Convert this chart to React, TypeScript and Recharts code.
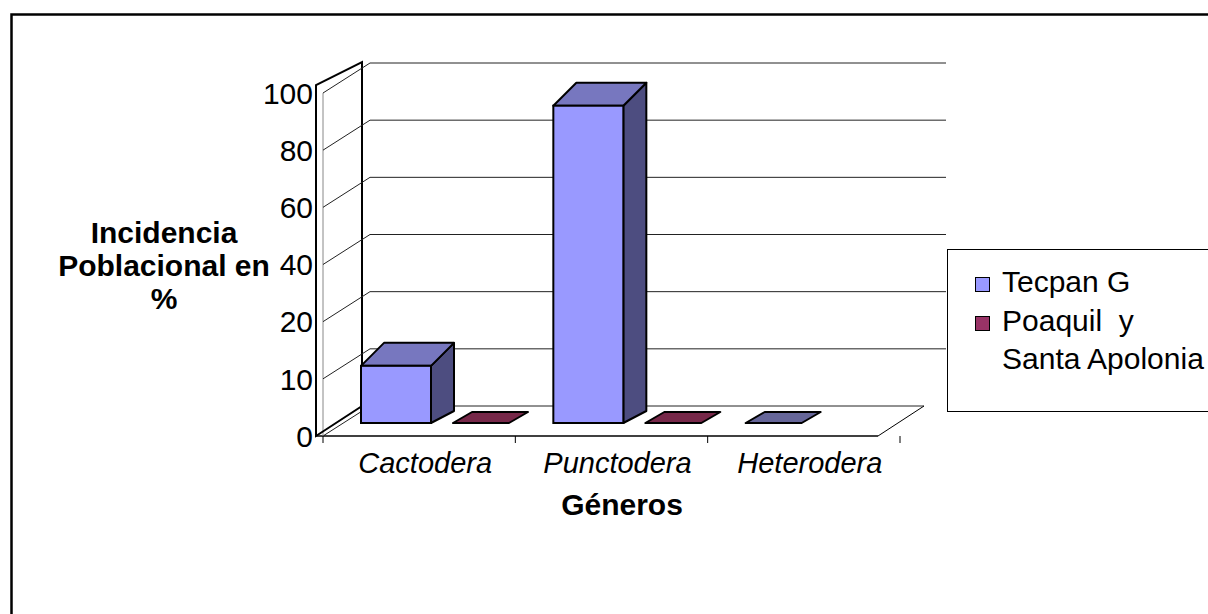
import React from "react";
import { BarChart, Bar, XAxis, YAxis, CartesianGrid, Legend } from "recharts";

const generos = ["Cactodera", "Punctodera", "Heterodera"];
const tecpan = [10, 91, 0];
const poaquil: (number | null)[] = [0, 0, null];
const yTickLabels = [0, 10, 20, 40, 60, 80, 100];
const seriesNames = ["Tecpan G", "Poaquil  y\nSanta Apolonia"];

const data = generos.map((g, i) => ({ genero: g, tecpan: tecpan[i], poaquil: poaquil[i] }));

// the original axis is uneven: 0, 10, 20 then steps of 20, one gridline each
function toLevel(v: number | null) {
  if (v == null) return null;
  for (let i = 1; i < yTickLabels.length; i++) {
    const a = yTickLabels[i - 1];
    const b = yTickLabels[i];
    if (v <= b) return i - 1 + (v - a) / (b - a);
  }
  return yTickLabels.length - 1;
}

const W = 1208;
const H = 614;
const PLOT_TOP = 93;
const PLOT_BOTTOM = 436;
const PLOT_RIGHT = 900;
const YAXIS_W = 323;
const XAXIS_H = 40;
const DEPTH_X = 47;
const DEPTH_Y = 30;
const FONT = '"Liberation Sans", Arial, Helvetica, sans-serif';

const tecpanColors = { front: "#9999FF", top: "#7777BF", side: "#4D4D80", flat: "#666699" };
const poaquilColors = { front: "#993366", top: "#772849", side: "#4D1A33", flat: "#772849" };

// back wall gridline + slanted connector; the floor and side wall ride on the 0 line
function BackLine(p: any) {
  const { x1, y1, x2 } = p;
  const bx = x1 + DEPTH_X;
  const by = y1 - DEPTH_Y;
  const isFloor = Math.abs(y1 - PLOT_BOTTOM) < 1;
  return (
    <g key={p.key ?? `gl-${p.index}`}>
      <line x1={x1} y1={y1} x2={bx} y2={by} stroke="#222" strokeWidth={1} />
      <line x1={bx} y1={by} x2={isFloor ? x2 + 24 : x2 + DEPTH_X - 1} y2={by} stroke="#222" strokeWidth={1} />
      {isFloor && (
        <>
          <line x1={x1 - 7} y1={y1} x2={x2 - 22} y2={y1} stroke="#000" strokeWidth={1.5} />
          <line x1={x2 - 22} y1={y1} x2={x2 + 24} y2={by} stroke="#000" strokeWidth={1} />
          <line x1={x1} y1={y1} x2={x1} y2={PLOT_TOP} stroke="#888" strokeWidth={1} />
          <path
            d={`M${x1 - 7},${y1} L${x1 - 7},${PLOT_TOP - 8} L${x1 + 39},${PLOT_TOP - 31} L${x1 + 39},${by} Z`}
            fill="none"
            stroke="#000"
            strokeWidth={2}
          />
        </>
      )}
    </g>
  );
}

function YTick({ y, payload }: any) {
  return (
    <text x={YAXIS_W - 10} y={y} dy="0.36em" textAnchor="end" fontSize={30} fontFamily={FONT} fill="#000">
      {yTickLabels[payload.value]}
    </text>
  );
}

function XTick({ x, payload, index, visibleTicksCount }: any) {
  const half = payload.offset ?? 96;
  const last = index === visibleTicksCount - 1;
  return (
    <g>
      <line x1={x - half} y1={PLOT_BOTTOM} x2={x - half} y2={PLOT_BOTTOM + 7} stroke="#000" />
      {last && <line x1={x + half} y1={PLOT_BOTTOM} x2={x + half} y2={PLOT_BOTTOM + 7} stroke="#000" />}
      <text x={x + 6} y={PLOT_BOTTOM + 37} textAnchor="middle" fontSize={29} fontStyle="italic" fontFamily={FONT} fill="#000">
        {payload.value}
      </text>
    </g>
  );
}

function makeBox(c: typeof tecpanColors) {
  return (p: any) => {
    const { x, y, width: w, height: h } = p;
    if (x == null || h == null || w == null) return <g />;
    const fx = x + 23;
    const base = y + h - 13;
    if (h <= 3) {
      const fw = w * 0.8;
      return (
        <polygon
          points={`${fx},${base} ${fx + fw},${base} ${fx + fw + 19},${base - 11} ${fx + 19},${base - 11}`}
          fill={c.flat}
          stroke="#000"
          strokeWidth={2}
          strokeLinejoin="round"
        />
      );
    }
    const top = y - 13;
    return (
      <g>
        <polygon
          points={`${fx + w},${top} ${fx + w + 23},${top - 23} ${fx + w + 23},${base - 12} ${fx + w},${base}`}
          fill={c.side}
          stroke="#000"
          strokeWidth={2}
          strokeLinejoin="round"
        />
        <polygon
          points={`${fx},${top} ${fx + w},${top} ${fx + w + 23},${top - 23} ${fx + 23},${top - 23}`}
          fill={c.top}
          stroke="#000"
          strokeWidth={2}
          strokeLinejoin="round"
        />
        <rect x={fx} y={top} width={w} height={h} fill={c.front} stroke="#000" strokeWidth={2} />
      </g>
    );
  };
}

const tecpanBox = makeBox(tecpanColors);
const poaquilBox = makeBox(poaquilColors);

function LegendBox({ payload }: any) {
  const items = [...(payload ?? [])].sort(
    (a: any, b: any) => seriesNames.indexOf(a.value) - seriesNames.indexOf(b.value)
  );
  return (
    <div
      style={{
        boxSizing: "border-box",
        width: 320,
        height: 163,
        border: "1px solid #000",
        background: "#fff",
        paddingTop: 13,
        fontFamily: FONT,
        fontSize: 30,
        lineHeight: "38.5px",
        color: "#000",
        textAlign: "left",
      }}
    >
      {items.map((e: any) => (
        <div key={e.value} style={{ position: "relative", paddingLeft: 54, whiteSpace: "pre" }}>
          <span
            style={{
              position: "absolute",
              left: 27,
              top: 14,
              width: 13,
              height: 13,
              border: "1px solid #000",
              background: e.color,
            }}
          />
          {e.value}
        </div>
      ))}
    </div>
  );
}

export default function App() {
  return (
    <div style={{ position: "absolute", left: 0, top: 0, width: W, height: H, overflow: "hidden", background: "#fff" }}>
      <BarChart
        width={W}
        height={H}
        data={data}
        margin={{ top: PLOT_TOP, right: W - PLOT_RIGHT, bottom: H - PLOT_BOTTOM - XAXIS_H, left: 0 }}
        barSize={70}
        barGap={22}
        style={{ fontFamily: FONT }}
      >
        <CartesianGrid horizontal={BackLine} vertical={false} />
        <XAxis
          dataKey="genero"
          height={XAXIS_H}
          axisLine={false}
          tickLine={false}
          tickSize={0}
          interval={0}
          tick={<XTick />}
        />
        <YAxis
          type="number"
          domain={[0, 6]}
          ticks={[0, 1, 2, 3, 4, 5, 6]}
          interval={0}
          width={YAXIS_W}
          axisLine={false}
          tickLine={false}
          tickSize={0}
          tick={<YTick />}
        />
        <Legend
          layout="horizontal"
          verticalAlign="middle"
          align="center"
          content={<LegendBox />}
          wrapperStyle={{ left: 947, top: 249, width: 320, height: 163 }}
        />
        <Bar
          name={seriesNames[0]}
          dataKey={(d: any) => toLevel(d.tecpan)}
          fill={tecpanColors.front}
          shape={tecpanBox}
          minPointSize={2}
          isAnimationActive={false}
        />
        <Bar
          name={seriesNames[1]}
          dataKey={(d: any) => toLevel(d.poaquil)}
          fill={poaquilColors.front}
          shape={poaquilBox}
          minPointSize={2}
          isAnimationActive={false}
        />
      </BarChart>
      <svg
        width={W}
        height={H}
        style={{ position: "absolute", left: 0, top: 0, pointerEvents: "none" }}
        fontFamily={FONT}
      >
        <rect x={11.5} y={14.5} width={W + 100} height={H + 100} fill="none" stroke="#000" strokeWidth={2.5} />
        <text textAnchor="middle" fontSize={30} fontWeight="bold" fill="#000">
          <tspan x={164} y={243}>Incidencia</tspan>
          <tspan x={164} y={276}>Poblacional en</tspan>
          <tspan x={164} y={309}>%</tspan>
        </text>
        <text x={622} y={515} textAnchor="middle" fontSize={30} fontWeight="bold" fill="#000">
          Géneros
        </text>
      </svg>
    </div>
  );
}
